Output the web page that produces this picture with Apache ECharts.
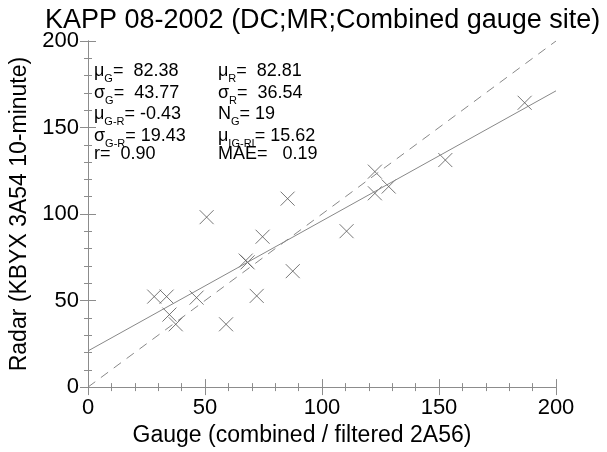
<!DOCTYPE html>
<html><head><meta charset="utf-8">
<script src="https://cdn.jsdelivr.net/npm/echarts@6/dist/echarts.min.js"></script>
<style>html,body{margin:0;padding:0;background:#fff}#c{width:607px;height:452px}</style>
</head><body><div id="c"></div>
<script>
const gaugeValues = [28.3, 33.6, 34.8, 37.5, 46.4, 50.7, 59.0, 67.4, 68.2, 72.1, 74.6, 85.3, 87.5, 110.5, 122.6, 122.6, 128.5, 152.7, 186.6];
const radarValues = [52.3, 52.3, 41.9, 36.3, 51.7, 98.2, 36.3, 73.1, 72.1, 52.7, 86.9, 108.9, 67.0, 90.1, 124.5, 112.0, 115.9, 131.2, 164.3];
const fitLine = [[0, 20.9], [200, 171.2]];
const oneToOne = [[0, 0], [200, 200]];
const statsLeft = [['μ','G','=  82.38'], ['σ','G','=  43.77'], ['μ','G-R','= -0.43'], ['σ','G-R','= 19.43'], ['r','','=  0.90']];
const statsRight = [['μ','R','=  82.81'], ['σ','R','=  36.54'], ['N','G','= 19'], ['μ','IG-RI','= 15.62'], ['MAE','','=   0.19']];
const titleText = 'KAPP 08-2002 (DC;MR;Combined gauge site)';
const xName = 'Gauge (combined / filtered 2A56)';
const yName = 'Radar (KBYX 3A54 10-minute)';

const FONT = 'Liberation Sans, Arial, Helvetica, sans-serif';
const AX = '#8c8c8c';
const chart = echarts.init(document.getElementById('c'));

function statText(row) {
  return '{m|' + row[0] + '}' + (row[1] ? '{s|' + row[1] + '}' : '') + '{m|' + row[2] + '}';
}
const rich = {
  m: {fontSize: 18, fontFamily: FONT, color: '#000', lineHeight: 22, verticalAlign: 'middle'},
  s: {fontSize: 11, fontFamily: FONT, color: '#000', lineHeight: 22, padding: [14, 0, 0, 0]}
};
const rowsY = [70, 92, 113, 135, 156];
const graphics = [];
statsLeft.forEach((r, i) => graphics.push({type: 'text', left: 94, top: rowsY[i] - 11, style: {text: statText(r), rich: rich, fill: '#000'}}));
statsRight.forEach((r, i) => graphics.push({type: 'text', left: 218, top: rowsY[i] - 11, style: {text: statText(r), rich: rich, fill: '#000'}}));

const axisCommon = {
  min: 0, max: 200, interval: 50,
  axisLine: {show: true, lineStyle: {color: AX, width: 1}},
  axisTick: {show: true, inside: true, length: 8, lineStyle: {color: AX}},
  minorTick: {show: true, splitNumber: 5, length: 4, lineStyle: {color: AX}},
  splitLine: {show: false}
};
const labelStyle = {color: '#000', fontSize: 22, fontFamily: FONT};

chart.setOption({
  animation: false,
  title: {text: titleText, left: 40, top: 2, textStyle: {fontSize: 27, fontWeight: 'normal', color: '#000', fontFamily: FONT}},
  grid: {left: 88, right: 51, top: 41, bottom: 58},
  xAxis: [
    Object.assign({}, axisCommon, {type: 'value', position: 'bottom', name: xName, nameLocation: 'middle', nameGap: 33,
      nameTextStyle: {fontSize: 23, color: '#000', fontFamily: FONT, padding: [0, 40, 0, 0]},
      axisLabel: Object.assign({margin: 10}, labelStyle)}),
    Object.assign({}, axisCommon, {type: 'value', position: 'top', axisLabel: {show: false}})
  ],
  yAxis: [
    Object.assign({}, axisCommon, {type: 'value', position: 'left', name: yName, nameLocation: 'middle', nameGap: 44,
      nameTextStyle: {fontSize: 23, color: '#000', fontFamily: FONT},
      axisLabel: Object.assign({margin: 9}, labelStyle)}),
    Object.assign({}, axisCommon, {type: 'value', position: 'right', axisLabel: {show: false}})
  ],
  graphic: graphics,
  series: [
    {type: 'line', data: oneToOne, symbol: 'none', lineStyle: {color: '#888', width: 1, type: [9, 7]}, silent: true},
    {type: 'line', data: fitLine, symbol: 'none', lineStyle: {color: '#888', width: 1}, silent: true},
    {type: 'scatter', data: gaugeValues.map((g, i) => [g, radarValues[i]]),
      symbol: 'path://M0,0L10,10M10,0L0,10', symbolSize: 14,
      itemStyle: {color: 'none', borderColor: '#555', borderWidth: 1}}
  ]
});
</script></body></html>
